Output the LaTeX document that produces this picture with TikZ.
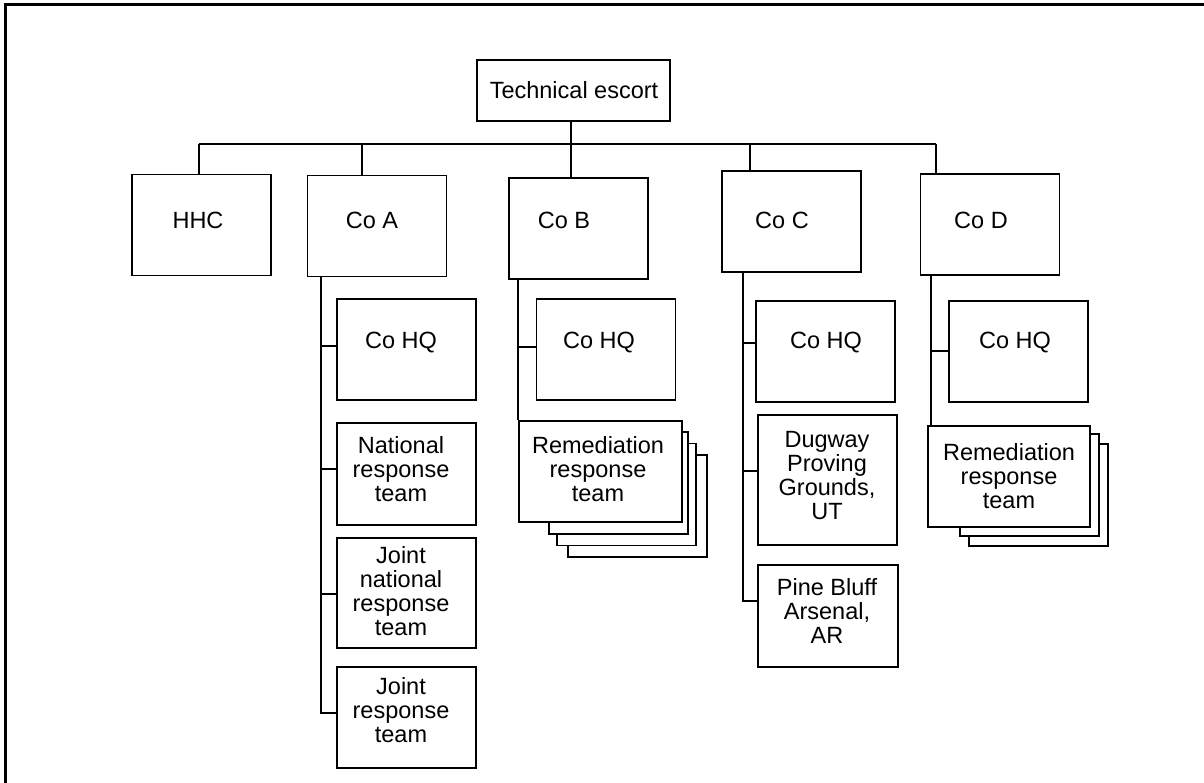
\documentclass[tikz,border=0pt]{standalone}
\usepackage{fontspec}
\setmainfont{Liberation Sans}
\begin{document}
\begin{tikzpicture}[x=1pt, y=-1pt, line width=1.6pt,
  orgbox/.style={draw, fill=white, inner sep=0pt, minimum width=139pt, minimum height=101pt},
  orgtext/.style={align=center, inner sep=0pt, font=\fontsize{23.5}{24}\selectfont}]
  \useasboundingbox (0,0) rectangle (1204,783);
  \draw[line width=3pt] (5,790) -- (5,5) -- (1210,5);
  % top and companies
  \node[orgbox, minimum width=193pt, minimum height=61pt] (top) at (573.5,90.5) {};
  \node[orgtext] (top-t) at (574,90) {Technical escort};
  \node[orgbox] (hhc) at (201.5,225) {};
  \node[orgbox] (coa) at (377,226) {};
  \node[orgbox] (cob) at (578.5,228.5) {};
  \node[orgbox] (coc) at (791.5,221.5) {};
  \node[orgbox] (cod) at (990,224.5) {};
  \node[orgtext] (hhc-t) at (198,220) {HHC};
  \node[orgtext] (coa-t) at (372,220) {Co A};
  \node[orgtext] (cob-t) at (564,220) {Co B};
  \node[orgtext] (coc-t) at (782,220) {Co C};
  \node[orgtext] (cod-t) at (981,220) {Co D};
  \coordinate (bH) at (199,144);
  \coordinate (bA) at (362,144);
  \coordinate (bB) at (571,144);
  \coordinate (bC) at (750,144);
  \coordinate (bD) at (936,144);
  \draw (bH) -- (bD);
  \draw (bB |- top.south) -- (bB |- cob.north);
  \draw (bH) -- (bH |- hhc.north);
  \draw (bA) -- (bA |- coa.north);
  \draw (bC) -- (bC |- coc.north);
  \draw (bD) -- (bD |- cod.north);
  % Co A
  \node[orgbox] (hqa) at (406.5,349.5) {};
  \node[orgbox, minimum height=102pt] (nrt) at (406.5,474) {};
  \node[orgbox, minimum height=110pt] (jnrt) at (406.5,593) {};
  \node[orgbox] (jrt) at (406.5,717.5) {};
  \node[orgtext] (hqa-t) at (401,343) {Co HQ};
  \node[orgtext] (nrt-t) at (401,469) {National\\response\\team};
  \node[orgtext] (jnrt-t) at (401,591) {Joint\\national\\response\\team};
  \node[orgtext] (jrt-t) at (401,710) {Joint\\response\\team};
  \coordinate (a1) at (321,346);
  \coordinate (a2) at (321,469);
  \coordinate (a3) at (321,594);
  \coordinate (a4) at (321,713);
  \draw (coa.south -| a4) -- (a4) -- (a4 -| jrt.west);
  \draw (a1) -- (a1 -| hqa.west);
  \draw (a2) -- (a2 -| nrt.west);
  \draw (a3) -- (a3 -| jnrt.west);
  % Co B
  \node[orgbox] (hqb) at (606,349.5) {};
  \foreach \cx/\cy [count=\i] in {637.5/506, 626.5/494.5, 618.5/483}
    \node[orgbox, minimum height=102pt] (rb\i) at (\cx,\cy) {};
  \node[orgbox, minimum width=163pt] (remb) at (600.5,471.5) {};
  \node[orgtext] (hqb-t) at (599,343) {Co HQ};
  \node[orgtext] (remb-t) at (598,469) {Remediation\\response\\team};
  \coordinate (b1) at (519,347);
  \draw (cob.south -| remb.north west) -- (remb.north west);
  \draw (b1) -- (b1 -| hqb.west);
  % Co C
  \node[orgbox] (hqc) at (825.5,351.5) {};
  \node[orgbox, minimum height=130pt] (dug) at (827.5,480) {};
  \node[orgbox, minimum width=140pt, minimum height=102pt] (pine) at (828,616) {};
  \node[orgtext] (hqc-t) at (826,343) {Co HQ};
  \node[orgtext] (dug-t) at (827,476) {Dugway\\Proving\\Grounds,\\UT};
  \node[orgtext] (pine-t) at (827,611) {Pine Bluff\\Arsenal,\\AR};
  \coordinate (c1) at (743,343);
  \coordinate (c2) at (743,471);
  \coordinate (c3) at (743,601);
  \draw (coc.south -| c3) -- (c3) -- (c3 -| pine.west);
  \draw (c1) -- (c1 -| hqc.west);
  \draw (c2) -- (c2 -| dug.west);
  % Co D
  \node[orgbox] (hqd) at (1018.5,351.5) {};
  \foreach \cx/\cy [count=\i] in {1038.5/495, 1029.5/485}
    \node[orgbox, minimum height=102pt] (rd\i) at (\cx,\cy) {};
  \node[orgbox, minimum width=162pt] (remd) at (1009,476.5) {};
  \node[orgtext] (hqd-t) at (1015,343) {Co HQ};
  \node[orgtext] (remd-t) at (1009,476) {Remediation\\response\\team};
  \coordinate (d1) at (931,351);
  \draw (cod.south -| d1) -- (d1 |- remd.north);
  \draw (d1) -- (d1 -| hqd.west);
\end{tikzpicture}
\end{document}
